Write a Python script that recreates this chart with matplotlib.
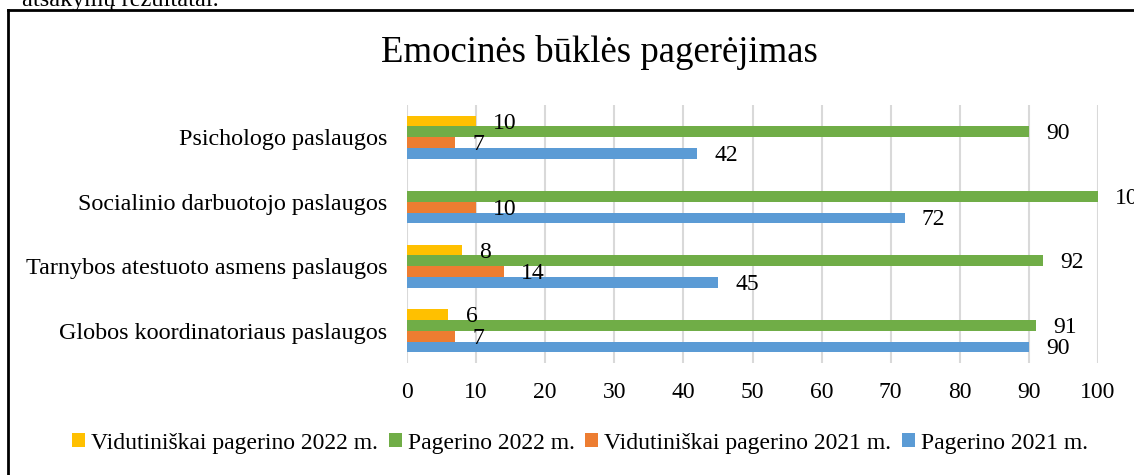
import matplotlib.pyplot as plt
import numpy as np
from matplotlib.lines import Line2D

categories = ["Globos koordinatoriaus paslaugos",
              "Tarnybos atestuoto asmens paslaugos",
              "Socialinio darbuotojo paslaugos",
              "Psichologo paslaugos"]
pagerino_2021 = [90, 45, 72, 42]
vid_2021 = [7, 14, 10, 7]
pagerino_2022 = [91, 92, 100, 90]
vid_2022 = [6, 8, None, 10]

series = [
    ("Vidutiniškai pagerino 2022 m.", vid_2022, "#FFC000"),
    ("Pagerino 2022 m.", pagerino_2022, "#70AD47"),
    ("Vidutiniškai pagerino 2021 m.", vid_2021, "#ED7D31"),
    ("Pagerino 2021 m.", pagerino_2021, "#5B9BD5"),
]
xticks = [0, 10, 20, 30, 40, 50, 60, 70, 80, 90, 100]

plt.rcParams['font.family'] = ['Liberation Serif', 'DejaVu Serif']

W, H = 1134, 475
fig = plt.figure(figsize=(W / 100, H / 100), dpi=100)
ax = fig.add_axes([407 / W, 1 - 363 / H, (1098 - 407) / W, (363 - 105) / H])

y = np.arange(len(categories))
h = 0.167
offsets = [1.5 * h, 0.5 * h, -0.5 * h, -1.5 * h]

for (name, vals, col), off in zip(series, offsets):
    v = np.array([np.nan if a is None else a for a in vals], dtype=float)
    ax.barh(y + off, v, height=h, color=col, label=name, zorder=3)
    for yi, val in zip(y, v):
        if np.isnan(val):
            continue
        ax.text(val + 2.5, yi + off - 0.03, f"{val:.0f}", va='center', ha='left',
                fontsize=17, zorder=4, clip_on=False)

ax.set_xlim(0, 100)
ax.set_ylim(-0.5, 3.5)
ax.set_xticks(xticks)
ax.set_yticks(y)
ax.set_yticklabels(categories, fontsize=17.4)
ax.tick_params(axis='x', labelsize=17, length=0, pad=14)
ax.tick_params(axis='y', length=0, pad=14)
ax.grid(axis='x', color='#d9d9d9', linewidth=1.5, zorder=0)
for s in ax.spines.values():
    s.set_visible(False)

fig.text(599 / W, 1 - 52 / H, "Emocinės būklės pagerėjimas", ha='center', va='center',
         fontsize=26.5)

handles, labels = ax.get_legend_handles_labels()
fig.legend(handles, labels, loc='center', bbox_to_anchor=(580 / W, 1 - 443 / H), ncol=4,
           frameon=False, fontsize=17, handlelength=0.55, handleheight=0.55,
           handletextpad=0.25, columnspacing=0.45)

# outer frame of the embedded chart
fig.add_artist(Line2D([8 / W, 8 / W], [0, 1 - 10 / H], color='black', lw=2,
                      transform=fig.transFigure))
fig.add_artist(Line2D([8 / W, 1], [1 - 10 / H, 1 - 10 / H], color='black', lw=2,
                      transform=fig.transFigure))

# clipped document text above the chart
fig.text(22 / W, 1 - 6 / H, "atsakymų rezultatai.", ha='left', va='baseline', fontsize=17.5)

fig.savefig("out.png", dpi=100)
